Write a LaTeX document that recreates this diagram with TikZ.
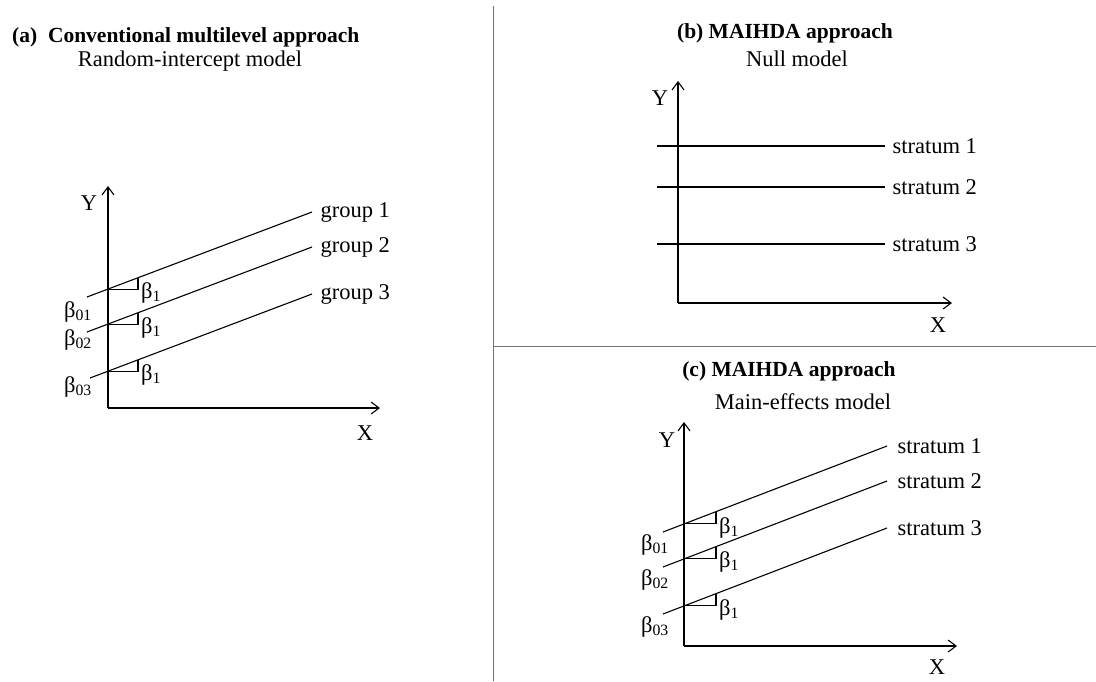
\documentclass[tikz,border=0pt]{standalone}
\usepackage{fontspec}
\setmainfont{Liberation Serif}
\usetikzlibrary{positioning,arrows.meta,calc}

\begin{document}
\begin{tikzpicture}[
  x=1pt, y=-1pt,
  font=\fontsize{22.5}{27}\selectfont,
  >={Straight Barb[length=8pt,width=12pt]},
  axisline/.style={->, line width=1.1pt},
  fitline/.style={line width=1.1pt},
  stair/.style={line width=1.1pt},
  lab/.style={inner sep=0pt},
  ttl/.style={inner sep=0pt, font=\fontsize{21.5}{26}\selectfont\bfseries},
  divider/.style={line width=1pt, black!55},
]
  \useasboundingbox (0,0) rectangle (1096,681);

  % panel borders
  \coordinate (vtop) at (493,6);
  \coordinate (vbot) at (493,681);
  \coordinate (hleft) at (493,346);
  \coordinate (hright) at (1096,346);
  \draw[divider] (vtop) -- (vbot);
  \draw[divider] (hleft) -- (hright);

  % (a) random-intercept model
  \node[ttl, anchor=west] (titleA) at (12,37) {(a)\ \ Conventional multilevel approach};
  \node[lab] (subA) at (190,61) {Random-intercept model};
  \coordinate (Oa) at (108,408);
  \coordinate (Ya) at (108,186);
  \coordinate (Xa) at (380,408);
  \draw[axisline] (Oa) -- (Ya);
  \draw[axisline] (Oa) -- (Xa);
  \node[lab] (yA) at (89,203) {Y};
  \node[lab] (xA) at (365,433) {X};
  \coordinate (a1s) at (87,297);
  \coordinate (a1e) at (312,212);
  \coordinate (a2s) at (87,332);
  \coordinate (a2e) at (312,247);
  \coordinate (a3s) at (90,378);
  \coordinate (a3e) at (312,294);
  \draw[fitline] (a1s) -- (a1e) node[lab, right=8pt] (g1) {group 1};
  \draw[fitline] (a2s) -- (a2e) node[lab, right=8pt] (g2) {group 2};
  \draw[fitline] (a3s) -- (a3e) node[lab, right=8pt] (g3) {group 3};
  \draw[stair] (108,289.1) -- (138,289.1) -- (138,277.8);
  \draw[stair] (108,324.1) -- (138,324.1) -- (138,312.8);
  \draw[stair] (108,371.2) -- (138,371.2) -- (138,359.9);
  \node[lab, anchor=west] (bA1) at (141,293) {β\textsubscript{1}};
  \node[lab, anchor=west] (bA2) at (141,328) {β\textsubscript{1}};
  \node[lab, anchor=west] (bA3) at (141,375) {β\textsubscript{1}};
  \node[lab] (b01A) at (78,312) {β\textsubscript{01}};
  \node[lab] (b02A) at (78,340) {β\textsubscript{02}};
  \node[lab] (b03A) at (78,387) {β\textsubscript{03}};

  % (b) null model
  \node[ttl] (titleB) at (785,33) {(b) MAIHDA approach};
  \node[lab] (subB) at (797,59) {Null model};
  \coordinate (Ob) at (678,303);
  \coordinate (Yb) at (678,81);
  \coordinate (Xb) at (952,303);
  \draw[axisline] (Ob) -- (Yb);
  \draw[axisline] (Ob) -- (Xb);
  \node[lab] (yB) at (660,98) {Y};
  \node[lab] (xB) at (938,325) {X};
  \coordinate (b1s) at (657,146);
  \coordinate (b1e) at (885,146);
  \coordinate (b2s) at (657,187);
  \coordinate (b2e) at (885,187);
  \coordinate (b3s) at (657,244);
  \coordinate (b3e) at (885,244);
  \draw[fitline] (b1s) -- (b1e) node[lab, right=7pt] (s1B) {stratum 1};
  \draw[fitline] (b2s) -- (b2e) node[lab, right=7pt] (s2B) {stratum 2};
  \draw[fitline] (b3s) -- (b3e) node[lab, right=7pt] (s3B) {stratum 3};

  % (c) main-effects model
  \node[ttl] (titleC) at (789,371) {(c) MAIHDA approach};
  \node[lab] (subC) at (803,402) {Main-effects model};
  \coordinate (Oc) at (684,646);
  \coordinate (Yc) at (684,422);
  \coordinate (Xc) at (957,646);
  \draw[axisline] (Oc) -- (Yc);
  \draw[axisline] (Oc) -- (Xc);
  \node[lab] (yC) at (667,440) {Y};
  \node[lab] (xC) at (937,667) {X};
  \coordinate (c1s) at (663,532);
  \coordinate (c1e) at (887,446);
  \coordinate (c2s) at (663,567);
  \coordinate (c2e) at (887,481);
  \coordinate (c3s) at (663,614);
  \coordinate (c3e) at (887,528);
  \draw[fitline] (c1s) -- (c1e) node[lab, right=10pt] (s1C) {stratum 1};
  \draw[fitline] (c2s) -- (c2e) node[lab, right=10pt] (s2C) {stratum 2};
  \draw[fitline] (c3s) -- (c3e) node[lab, right=10pt] (s3C) {stratum 3};
  \draw[stair] (684,523.9) -- (716,523.9) -- (716,511.6);
  \draw[stair] (684,558.9) -- (716,558.9) -- (716,546.6);
  \draw[stair] (684,605.9) -- (716,605.9) -- (716,593.6);
  \node[lab, anchor=west] (bC1) at (719,528) {β\textsubscript{1}};
  \node[lab, anchor=west] (bC2) at (719,562) {β\textsubscript{1}};
  \node[lab, anchor=west] (bC3) at (719,610) {β\textsubscript{1}};
  \node[lab] (b01C) at (655,545) {β\textsubscript{01}};
  \node[lab] (b02C) at (655,580) {β\textsubscript{02}};
  \node[lab] (b03C) at (655,627) {β\textsubscript{03}};
\end{tikzpicture}
\end{document}
